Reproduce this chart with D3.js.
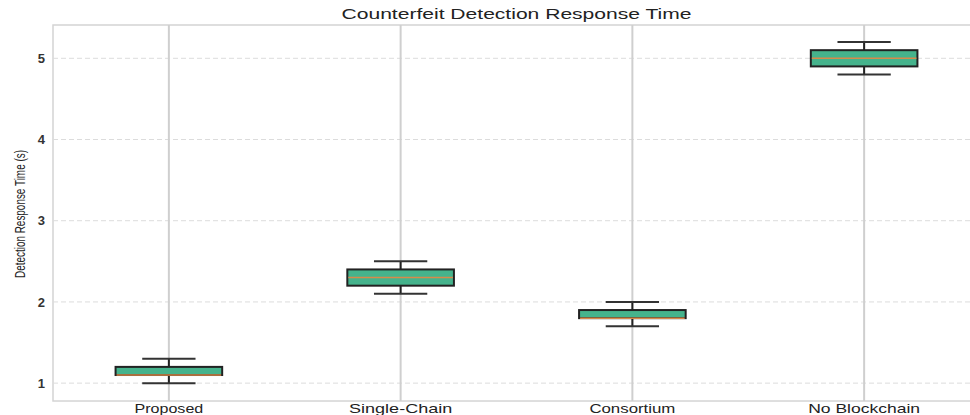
<!DOCTYPE html>
<html>
<head>
<meta charset="utf-8">
<script src="https://cdn.jsdelivr.net/npm/d3@7"></script>
<style>
  html, body { margin: 0; padding: 0; background: #fff; }
  svg { display: block; font-family: "Liberation Sans", Arial, sans-serif; }
</style>
</head>
<body>
<svg id="chart" width="970" height="415"></svg>
<script>
// Response time summaries per architecture (seconds)
const categories = ["Proposed", "Single-Chain", "Consortium", "No Blockchain"];
const whiskerLow  = [1.0, 2.1, 1.7, 4.8];
const quartile1   = [1.1, 2.2, 1.8, 4.9];
const medians     = [1.1, 2.3, 1.8, 5.0];
const quartile3   = [1.2, 2.4, 1.9, 5.1];
const whiskerHigh = [1.3, 2.5, 2.0, 5.2];
const yTicks = [1, 2, 3, 4, 5];

const svg = d3.select("#chart");
const margin = { left: 53, right: -10, top: 25, bottom: 14 };
const W = 970, H = 415;
const plotL = margin.left, plotR = W - margin.right;
const plotT = margin.top, plotB = H - margin.bottom;

const x = d3.scaleBand().domain(categories).range([plotL, plotR]).paddingInner(0).paddingOuter(0);
const y = d3.scaleLinear().domain([0.78, 5.41]).range([plotB, plotT]);
const boxW = x.bandwidth() * 0.46;
const capW = boxW * 0.5;
const cx = c => x(c) + x.bandwidth() / 2;

// Frame
svg.append("rect")
  .attr("x", plotL).attr("y", plotT)
  .attr("width", plotR - plotL).attr("height", plotB - plotT)
  .attr("fill", "none").attr("stroke", "#d4d4d4").attr("stroke-width", 1.5);

// Horizontal dashed grid
svg.append("g").selectAll("line").data(yTicks).join("line")
  .attr("x1", plotL).attr("x2", plotR)
  .attr("y1", d => y(d)).attr("y2", d => y(d))
  .attr("stroke", "#dcdcdc").attr("stroke-width", 1)
  .attr("stroke-dasharray", "5,3");

// Vertical category grid
svg.append("g").selectAll("line").data(categories).join("line")
  .attr("x1", cx).attr("x2", cx)
  .attr("y1", plotT).attr("y2", plotB)
  .attr("stroke", "#cfcfcf").attr("stroke-width", 2);

// Y axis tick labels
const yAxis = d3.axisLeft(y).tickValues(yTicks).tickSize(0).tickPadding(8).tickFormat(d3.format("d"));
const yg = svg.append("g").attr("transform", `translate(${plotL},0)`).call(yAxis);
yg.select(".domain").remove();
yg.selectAll("text")
  .attr("font-size", 13).attr("font-weight", "bold").attr("fill", "#333")
  .attr("font-family", "'Liberation Sans', Arial, sans-serif");

// X axis tick labels
const xAxis = d3.axisBottom(x).tickSize(0).tickPadding(3);
const xg = svg.append("g").attr("transform", `translate(0,${plotB})`).call(xAxis);
xg.select(".domain").remove();
xg.selectAll("text")
  .attr("y", 12).attr("dy", null)
  .attr("font-size", 13.5).attr("fill", "#222")
  .attr("font-family", "'Liberation Sans', Arial, sans-serif")
  .attr("textLength", d => d.length * 8.6)
  .attr("lengthAdjust", "spacingAndGlyphs");

// Box plots
const stats = categories.map((c, i) => ({
  c, lo: whiskerLow[i], q1: quartile1[i], med: medians[i], q3: quartile3[i], hi: whiskerHigh[i]
}));
const g = svg.append("g").selectAll("g").data(stats).join("g");
const edge = "#222";
// whiskers
g.append("line")
  .attr("x1", d => cx(d.c)).attr("x2", d => cx(d.c))
  .attr("y1", d => y(d.hi)).attr("y2", d => y(d.q3))
  .attr("stroke", edge).attr("stroke-width", 2);
g.append("line")
  .attr("x1", d => cx(d.c)).attr("x2", d => cx(d.c))
  .attr("y1", d => y(d.q1)).attr("y2", d => y(d.lo))
  .attr("stroke", edge).attr("stroke-width", 2);
// caps
g.append("line")
  .attr("x1", d => cx(d.c) - capW / 2).attr("x2", d => cx(d.c) + capW / 2)
  .attr("y1", d => y(d.hi)).attr("y2", d => y(d.hi))
  .attr("stroke", "#333").attr("stroke-width", 2);
g.append("line")
  .attr("x1", d => cx(d.c) - capW / 2).attr("x2", d => cx(d.c) + capW / 2)
  .attr("y1", d => y(d.lo)).attr("y2", d => y(d.lo))
  .attr("stroke", "#333").attr("stroke-width", 2);
// boxes
g.append("rect")
  .attr("x", d => cx(d.c) - boxW / 2)
  .attr("y", d => y(d.q3))
  .attr("width", boxW)
  .attr("height", d => y(d.q1) - y(d.q3))
  .attr("fill", "#45b38c").attr("stroke", edge).attr("stroke-width", 2);
// medians
g.append("line")
  .attr("x1", d => cx(d.c) - boxW / 2 + 1).attr("x2", d => cx(d.c) + boxW / 2 - 1)
  .attr("y1", d => y(d.med)).attr("y2", d => y(d.med))
  .attr("stroke", "#d98a4a").attr("stroke-width", 1.5);

// Title
svg.append("text")
  .attr("x", (plotL + plotR) / 2).attr("y", 19)
  .attr("text-anchor", "middle")
  .attr("font-size", 14).attr("fill", "#222")
  .attr("textLength", 350).attr("lengthAdjust", "spacingAndGlyphs")
  .text("Counterfeit Detection Response Time");

// Y axis title
svg.append("text")
  .attr("transform", `translate(25,${(plotT + plotB) / 2 + 1}) rotate(-90)`)
  .attr("text-anchor", "middle")
  .attr("font-size", 14).attr("fill", "#222")
  .attr("textLength", 128).attr("lengthAdjust", "spacingAndGlyphs")
  .text("Detection Response Time (s)");
</script>
</body>
</html>
